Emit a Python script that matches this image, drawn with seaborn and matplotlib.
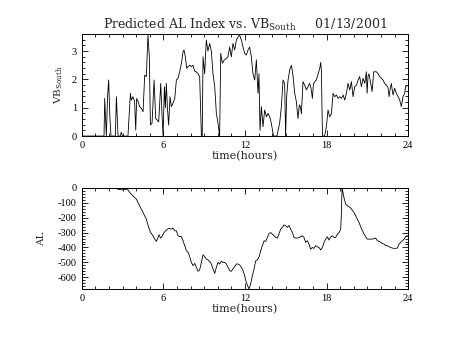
import numpy as np
import pandas as pd
import matplotlib
matplotlib.use("Agg")
import matplotlib.pyplot as plt
from matplotlib.ticker import MultipleLocator
import seaborn as sns

# Southward IMF component (VB_South), hours since 00 UT
vb_hours = [0, 1.64, 1.69, 1.75, 1.81, 1.9, 1.98, 2.07, 2.15, 2.47, 2.55, 2.67, 2.84, 2.91, 2.99,
            3.4, 3.58, 3.65, 3.77, 3.89, 3.97, 4.04, 4.14, 4.26, 4.38, 4.51, 4.63, 4.75, 4.87,
            4.97, 5.05, 5.17, 5.32, 5.44, 5.56, 5.66, 5.81, 5.9, 5.98, 6.08, 6.15, 6.22, 6.3,
            6.39, 6.49, 6.59, 6.71, 6.84, 6.96, 7.08, 7.2, 7.33, 7.45, 7.52, 7.62, 7.72, 7.82,
            7.94, 8.06, 8.18, 8.3, 8.42, 8.55, 8.67, 8.8, 8.86, 8.92, 9.04, 9.16, 9.28, 9.41,
            9.53, 9.65, 9.78, 9.9, 10.02, 10.14, 10.22, 10.34, 10.47, 10.63, 10.75, 10.88, 11.0,
            11.12, 11.25, 11.37, 11.49, 11.61, 11.74, 11.86, 11.98, 12.1, 12.23, 12.35, 12.47,
            12.59, 12.72, 12.84, 12.96, 13.03, 13.11, 13.21, 13.33, 13.45, 13.58, 13.7, 13.82,
            13.94, 14.1, 14.35, 14.55, 14.68, 14.8, 14.92, 14.99, 15.07, 15.17, 15.29, 15.42,
            15.54, 15.66, 15.78, 15.9, 16.0, 16.08, 16.15, 16.27, 16.39, 16.52, 16.64, 16.76,
            16.86, 16.96, 17.04, 17.25, 17.38, 17.5, 17.57, 17.62, 17.7, 17.86, 17.99, 18.11,
            18.23, 18.36, 18.48, 18.6, 18.73, 18.85, 18.97, 19.1, 19.22, 19.34, 19.46, 19.58,
            19.71, 19.83, 19.95, 20.07, 20.2, 20.32, 20.44, 20.56, 20.68, 20.81, 20.93, 20.98,
            21.05, 21.12, 21.25, 21.35, 21.47, 21.66, 21.79, 21.91, 22.03, 22.15, 22.27, 22.4,
            22.52, 22.6, 22.67, 22.76, 22.89, 23.01, 23.13, 23.26, 23.38, 23.5, 23.62, 23.75,
            23.8, 23.9]
vb_south = [0, 0, 1.33, 0.68, 0, 1.39, 1.98, 0.68, 0, 0, 1.39, 0, 0, 0.14, 0,
            0, 1.51, 1.27, 1.39, 1.22, 0.21, 1.33, 1.22, 1.04, 0.98, 0.86, 2.15, 2.1, 3.57,
            2.8, 0.39, 0.45, 1.98, 0.62, 0.56, 0.5, 1.86, 0.8, 0, 1.74, 1.0, 1.86, 1.0,
            0.39, 1.39, 1.04, 1.16, 1.33, 1.98, 2.04, 2.27, 2.57, 2.98, 3.04, 2.8, 2.39, 2.45,
            2.5, 2.45, 2.5, 2.3, 2.27, 2.2, 2.1, 0, 0, 2.8, 2.2, 3.39, 3.0, 3.27,
            3.0, 2.2, 1.74, 0.8, 0.45, 0, 2.92, 2.57, 2.68, 2.74, 2.8, 3.14, 2.8,
            3.27, 3.04, 3.39, 3.5, 3.57, 3.39, 3.14, 2.92, 2.86, 3.04, 3.14, 2.8,
            2.2, 1.98, 2.69, 1.51, 2.2, 0.2, 1.04, 0.33, 0.92, 0.68, 0.8, 0.68,
            0.45, 0, 0, 0.45, 1.04, 1.98, 1.86, 0, 1.4, 1.98, 2.33, 2.5,
            2.1, 1.51, 1.22, 0.62, 1.1, 1.04, 0.78, 1.92, 1.8, 1.63, 1.74, 1.86,
            1.69, 1.33, 1.86, 1.98, 2.2, 2.39, 2.6, 2.33, 0, 0, 0.33, 0.92,
            0.68, 0.8, 1.51, 1.39, 1.45, 1.33, 1.39, 1.33, 1.45, 1.27, 1.51, 1.86,
            1.63, 1.92, 1.39, 1.74, 1.8, 1.98, 2.1, 1.74, 2.04, 1.86, 2.27, 1.51,
            2.1, 2.2, 1.86, 1.57, 2.27, 2.27, 2.2, 2.1, 2.04, 1.98, 1.86, 1.8,
            1.71, 1.39, 1.63, 1.86, 1.45, 1.69, 1.51, 1.39, 1.27, 1.04, 1.39, 1.51,
            1.74, 1.75]

# Predicted AL index (nT)
al_hours = [2.5, 2.65, 3.04, 3.22, 3.4, 3.53, 3.77, 4.02, 4.26, 4.51, 4.75, 4.92, 5.07, 5.24,
            5.37, 5.49, 5.61, 5.68, 5.8, 5.9, 6.05, 6.22, 6.39, 6.59, 6.71, 6.84, 6.96, 7.08,
            7.2, 7.33, 7.45, 7.57, 7.7, 7.82, 7.94, 8.06, 8.18, 8.31, 8.43, 8.55, 8.67, 8.8,
            8.92, 9.04, 9.16, 9.29, 9.41, 9.53, 9.65, 9.78, 9.9, 10.02, 10.14, 10.27, 10.39,
            10.51, 10.63, 10.76, 10.88, 11.0, 11.12, 11.25, 11.37, 11.49, 11.61, 11.74, 11.86,
            11.98, 12.1, 12.3, 12.42, 12.55, 12.67, 12.79, 12.92, 13.04, 13.16, 13.28, 13.41,
            13.53, 13.65, 13.77, 13.9, 14.02, 14.14, 14.26, 14.38, 14.5, 14.63, 14.75, 14.87,
            15.0, 15.12, 15.24, 15.36, 15.49, 15.61, 15.73, 15.85, 15.98, 16.1, 16.22, 16.34,
            16.47, 16.59, 16.71, 16.83, 16.96, 17.08, 17.2, 17.32, 17.45, 17.57, 17.69, 17.82,
            17.94, 18.06, 18.18, 18.31, 18.43, 18.55, 18.67, 18.8, 18.92, 19.04, 19.09, 19.14,
            19.19, 19.28, 19.41, 19.53, 19.65, 19.78, 19.9, 20.02, 20.15, 20.27, 20.39, 20.51,
            20.64, 20.76, 20.88, 21.0, 21.12, 21.25, 21.37, 21.49, 21.61, 21.74, 21.86, 21.98,
            22.11, 22.23, 22.35, 22.47, 22.6, 22.72, 22.84, 22.96, 23.08, 23.21, 23.33, 23.45,
            23.58, 23.7, 23.82, 23.95]
al_index = [0, -9, -13, -9, -13, -31, -54, -76, -120, -165, -210, -265, -300, -321,
            -344, -359, -333, -315, -337, -326, -300, -283, -272, -277, -270, -288, -288, -321,
            -328, -326, -355, -388, -422, -433, -462, -500, -522, -507, -533, -560, -551, -500,
            -449, -462, -478, -484, -493, -511, -544, -574, -533, -500, -511, -493, -500,
            -500, -511, -533, -556, -560, -544, -529, -511, -511, -518, -533, -556,
            -589, -634, -680, -645, -589, -544, -489, -484, -462, -422, -388, -355,
            -359, -333, -306, -300, -310, -321, -333, -337, -310, -277, -265, -248,
            -255, -265, -252, -277, -300, -333, -337, -337, -333, -328, -321, -333,
            -366, -355, -377, -411, -400, -406, -388, -395, -400, -417, -400, -366,
            -344, -328, -350, -328, -321, -333, -333, -310, -300, -277, -176, -5,
            -20, -65, -109, -120, -127, -136, -150, -165, -188, -210, -232, -261,
            -288, -310, -328, -344, -344, -344, -344, -340, -337, -355, -359, -366,
            -373, -377, -388, -388, -395, -400, -404, -406, -406, -404, -377, -366,
            -355, -344, -328, -320]

x_ticks = [0, 6, 12, 18, 24]
vb_ticks = [0, 1, 2, 3]
al_ticks = [0, -100, -200, -300, -400, -500, -600]
title = r"Predicted AL Index vs. VB$_{\mathregular{South}}$     01/13/2001"

vb_df = pd.DataFrame({"hours": vb_hours, "VB": vb_south})
al_df = pd.DataFrame({"hours": al_hours, "AL": al_index})

sns.set_style("ticks")
plt.rcParams["font.family"] = ["DejaVu Serif", "DejaVu Sans"]
plt.rcParams["mathtext.fontset"] = "dejavuserif"
plt.rcParams["mathtext.default"] = "regular"
plt.rcParams["axes.unicode_minus"] = False

fig = plt.figure(figsize=(4.54, 3.41), dpi=100)
ax1 = fig.add_axes([0.180, 0.601, 0.719, 0.299])
ax2 = fig.add_axes([0.180, 0.152, 0.719, 0.297])

tick_fs = 7.5
label_fs = 8

def style_axis(ax):
    ax.set_xlim(0, 24)
    ax.set_xticks(x_ticks)
    ax.xaxis.set_minor_locator(MultipleLocator(1))
    ax.tick_params(which="both", direction="in", top=True, right=True,
                   colors="black", width=0.6, labelsize=tick_fs)
    ax.tick_params(which="major", length=4, pad=3.5)
    ax.tick_params(which="minor", length=2)
    for lab in ax.get_xticklabels() + ax.get_yticklabels():
        lab.set_family("Liberation Serif")
    for s in ax.spines.values():
        s.set_linewidth(0.7)
        s.set_color("black")
    ax.set_xlabel("time(hours)", fontsize=label_fs, labelpad=1)

sns.lineplot(data=vb_df, x="hours", y="VB", ax=ax1, color="black", linewidth=0.6,
             estimator=None, sort=False)
ax1.set_ylim(0, 3.6)
ax1.set_yticks(vb_ticks)
ax1.yaxis.set_minor_locator(MultipleLocator(0.2))
style_axis(ax1)
ax1.set_ylabel(r"VB$_{\mathregular{South}}$", fontsize=7.5)
ax1.yaxis.set_label_coords(-0.05, 0.5)
ax1.set_title(title, fontsize=9, pad=4)

sns.lineplot(data=al_df, x="hours", y="AL", ax=ax2, color="black", linewidth=0.6,
             estimator=None, sort=False)
ax2.set_ylim(-680, 0)
ax2.set_yticks(al_ticks)
ax2.yaxis.set_minor_locator(MultipleLocator(20))
style_axis(ax2)
ax2.set_ylabel("AL", fontsize=7.5)
ax2.yaxis.set_label_coords(-0.11, 0.5)

fig.savefig("out.png", dpi=100, facecolor="white")
